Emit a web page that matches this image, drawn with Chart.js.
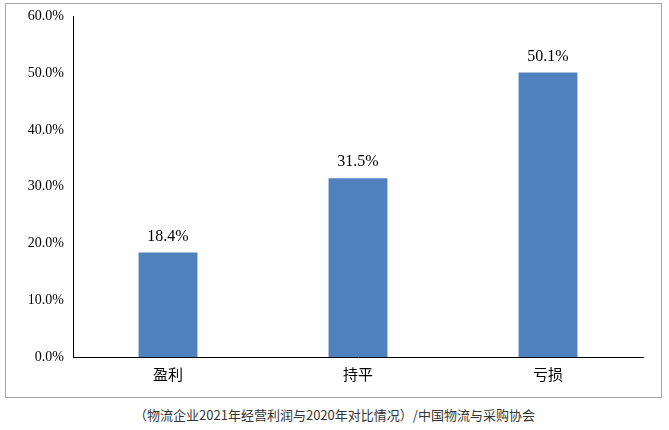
<!DOCTYPE html>
<html>
<head>
<meta charset="utf-8">
<script src="https://cdn.jsdelivr.net/npm/chart.js@4"></script>
<style>
  body { margin: 0; background: #fff; width: 669px; height: 430px; position: relative; }
  #box { position: absolute; left: 5px; top: 3px; width: 655px; height: 393px; border: 1px solid #a6a6a6; }
  #caption { position: absolute; left: 0; top: 405px; width: 669px; text-align: center;
    font-family: "Noto Sans CJK SC", sans-serif; font-size: 13px; color: #333; }
</style>
</head>
<body>
<div id="box"><canvas id="chart"></canvas></div>
<div id="caption">（物流企业2021年经营利润与2020年对比情况）/中国物流与采购协会</div>
<script>
'use strict';

// Data
let categories = ['盈利', '持平', '亏损'];
let shares = [18.4, 31.5, 50.1];
let tickValues = [0, 10, 20, 30, 40, 50, 60];

// Value labels above bars
let valueLabels = {
  id: 'valueLabels',
  afterDatasetsDraw(chart){
    let ctx = chart.ctx;
    ctx.save();
    ctx.font = '16px "Liberation Serif", serif';
    ctx.fillStyle = '#000';
    ctx.textAlign = 'center';
    ctx.textBaseline = 'bottom';
    chart.getDatasetMeta(0).data.forEach((bar, i) => {
      ctx.fillText(shares[i].toFixed(1) + '%', bar.x, bar.y - 8);
    });
    ctx.restore();
  }
};

new Chart(document.getElementById('chart'), { // eslint-disable-line
  type: 'bar',
  data: {
    labels: categories,
    datasets: [{
      data: shares,
      backgroundColor: '#4F81BD',
      barPercentage: 0.62,
      categoryPercentage: 0.5
    }]
  },
  options: {
    responsive: true,
    maintainAspectRatio: false,
    animation: false,
    layout: { padding: { left: 5, right: 18, top: 12, bottom: 0 } },
    plugins: { legend: { display: false }, tooltip: { enabled: false } },
    scales: {
      x: {
        grid: { display: false, drawTicks: false },
        border: { color: '#000' },
        ticks: { color: '#000', padding: 8, font: { family: '"Noto Sans CJK SC", sans-serif', size: 15 } },
        afterFit(scale){ scale.height = 40; }
      },
      y: {
        min: 0,
        max: 60,
        afterBuildTicks(scale){ scale.ticks = tickValues.map(v => ({ value: v })); },
        grid: { display: false, drawTicks: true, tickLength: 5, tickColor: '#000' },
        border: { color: '#000' },
        ticks: {
          color: '#000',
          padding: 4,
          font: { family: '"Liberation Serif", serif', size: 14 },
          callback: v => v.toFixed(1) + '%'
        },
        afterFit(scale){ scale.width = 62; }
      }
    }
  },
  plugins: [valueLabels]
});
</script>
</body>
</html>
